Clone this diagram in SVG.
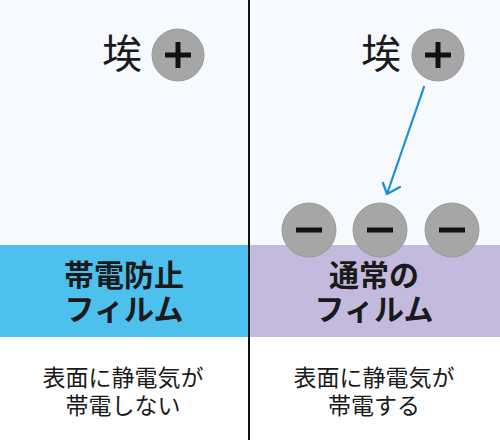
<svg xmlns="http://www.w3.org/2000/svg" width="500" height="440" viewBox="0 0 500 440">
<defs>
<style>
.jp{font-family:"Noto Sans CJK JP","Noto Sans CJK SC",sans-serif;fill:#1a1a1a;text-anchor:middle}
.ion{font-size:40px}
.band{font-size:30px;font-weight:bold}
.cap{font-size:23px}
.ball{fill:#a6a6a6;stroke:#9a9a9a;stroke-width:1}
.bar{fill:#111}
</style>
</defs>
<rect x="0" y="0" width="500" height="245" fill="#f6fafe"/>
<rect x="0" y="337" width="500" height="103" fill="#ffffff"/>
<g id="band-left"><rect x="0" y="245" width="249" height="92" fill="#4ec0ee"/>
<text class="jp band" x="124" y="286">帯電防止</text>
<text class="jp band" x="124" y="320">フィルム</text></g>
<g id="band-right"><rect x="249" y="245" width="251" height="92" fill="#c4badd"/>
<text class="jp band" x="374" y="286">通常の</text>
<text class="jp band" x="374" y="320">フィルム</text></g>
<g id="ion-left"><text class="jp ion" x="122" y="68">埃</text>
<circle class="ball" cx="178" cy="55" r="26"/>
<rect class="bar" x="165" y="52.5" width="26" height="5"/><rect class="bar" x="175.5" y="42" width="5" height="26"/></g>
<g id="ion-right"><text class="jp ion" x="381" y="68">埃</text>
<circle class="ball" cx="438" cy="55" r="26"/>
<rect class="bar" x="425" y="52.5" width="26" height="5"/><rect class="bar" x="435.5" y="42" width="5" height="26"/></g>
<g id="minus1"><circle class="ball" cx="309" cy="230" r="27"/><rect class="bar" x="296" y="227.5" width="26" height="5"/></g>
<g id="minus2"><circle class="ball" cx="380" cy="230" r="27"/><rect class="bar" x="367" y="227.5" width="26" height="5"/></g>
<g id="minus3"><circle class="ball" cx="452" cy="230" r="27"/><rect class="bar" x="439" y="227.5" width="26" height="5"/></g>
<g id="cap-left"><text class="jp cap" x="123" y="386">表面に静電気が</text><text class="jp cap" x="123" y="414">帯電しない</text></g>
<g id="cap-right"><text class="jp cap" x="374" y="386">表面に静電気が</text><text class="jp cap" x="374" y="414">帯電する</text></g>
<g id="connectors" fill="none" stroke="#1a8fd6" stroke-width="2.2" stroke-linecap="round" stroke-linejoin="round">
<path d="M424,87 L387,194"/>
<path d="M383,183 L387,194 L400,187"/>
</g>
<line x1="249" y1="0" x2="249" y2="440" stroke="#111" stroke-width="2"/>
</svg>
